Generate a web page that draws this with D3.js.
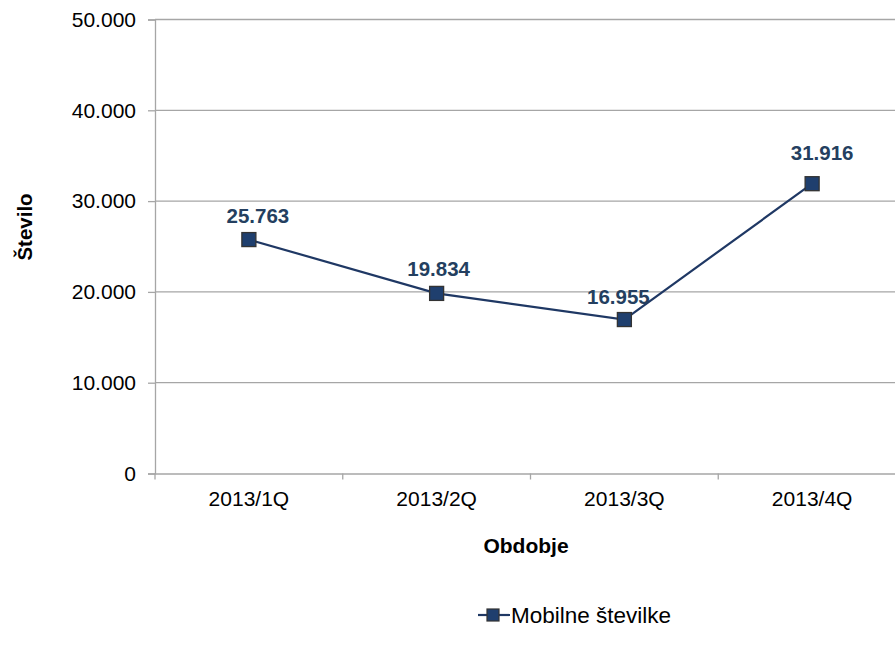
<!DOCTYPE html>
<html><head><meta charset="utf-8">
<script src="https://cdn.jsdelivr.net/npm/d3@7"></script>
<style>body{margin:0;background:#fff}svg{display:block}text{font-family:"Liberation Sans",Arial,sans-serif}</style>
</head><body>
<script>
const categories = ["2013/1Q","2013/2Q","2013/3Q","2013/4Q"];
const values = [25763, 19834, 16955, 31916];
const yTicks = [0,10000,20000,30000,40000,50000];
const seriesName = "Mobilne številke";
// label placement offsets (style, px)
const labelDx = [9, 2, -6, 10];
const labelDy = [-17, -17, -16, -24];

const W=895,H=650;
const svg=d3.select("body").append("svg").attr("width",W).attr("height",H);
const L=155, R=906, T=19.5, B=473.5;
const x=d3.scaleBand().domain(categories).range([L,R]);
const y=d3.scaleLinear().domain([0,50000]).range([B,T]);
const fmt=v=>v===0?"0":d3.format(",")(v).replace(/,/g,".");
const grid="#a6a6a6";
const FS=21;

// gridlines
svg.append("g").selectAll("line").data(yTicks.filter(d=>d>0)).join("line")
 .attr("x1",L).attr("x2",R).attr("y1",d=>y(d)).attr("y2",d=>y(d))
 .attr("stroke",grid).attr("stroke-width",1.3);

// y axis
const ya=svg.append("g").attr("transform",`translate(${L},0)`)
 .call(d3.axisLeft(y).tickValues(yTicks).tickFormat(fmt).tickSize(7).tickPadding(12));
ya.select(".domain").attr("stroke",grid).attr("stroke-width",1.3);
ya.selectAll(".tick line").attr("stroke",grid).attr("stroke-width",1.3);
ya.selectAll(".tick text").attr("font-size",FS).attr("fill","#000").attr("font-family","Liberation Sans, Arial, sans-serif");

// x axis
const xa=svg.append("g").attr("transform",`translate(0,${B})`)
 .call(d3.axisBottom(x).tickSize(0));
xa.select(".domain").attr("stroke",grid).attr("stroke-width",1.3);
xa.selectAll(".tick text").attr("font-size",FS).attr("fill","#000").attr("font-family","Liberation Sans, Arial, sans-serif")
 .attr("y",32.5).attr("dy",0);
// category boundary ticks
svg.append("g").selectAll("line").data(d3.range(categories.length+1)).join("line")
 .attr("x1",i=>L+i*x.bandwidth()).attr("x2",i=>L+i*x.bandwidth())
 .attr("y1",B).attr("y2",B+6).attr("stroke",grid).attr("stroke-width",1.3);

// axis titles
svg.append("text").attr("x",526).attr("y",553).attr("text-anchor","middle")
 .attr("font-size",FS).attr("font-weight","bold").text("Obdobje");
svg.append("text").attr("transform","translate(32,227) rotate(-90)").attr("text-anchor","middle")
 .attr("font-size",20.5).attr("font-weight","bold").text("Število");

// line
const cx=d=>x(d)+x.bandwidth()/2;
const pts=categories.map((c,i)=>[cx(c),y(values[i])]);
svg.append("path").attr("d",d3.line()(pts)).attr("fill","none").attr("stroke","#1f3864").attr("stroke-width",2.2);
svg.append("g").selectAll("rect").data(pts).join("rect")
 .attr("x",d=>d[0]-7).attr("y",d=>d[1]-7).attr("width",14).attr("height",14)
 .attr("fill","#1f3f6e").attr("stroke","#333").attr("stroke-width",1.3);
svg.append("g").selectAll("text").data(categories).join("text")
 .attr("x",(c,i)=>cx(c)+labelDx[i]).attr("y",(c,i)=>y(values[i])+labelDy[i]).attr("text-anchor","middle")
 .attr("font-size",20.5).attr("font-weight","bold").attr("fill","#243f60")
 .text((c,i)=>fmt(values[i]));

// legend
const ly=615;
svg.append("line").attr("x1",478).attr("x2",510).attr("y1",ly).attr("y2",ly).attr("stroke","#1f3864").attr("stroke-width",2.2);
svg.append("rect").attr("x",487).attr("y",ly-6).attr("width",12).attr("height",12).attr("fill","#1f3f6e").attr("stroke","#333").attr("stroke-width",1.2);
svg.append("text").attr("x",511).attr("y",ly+7.5).attr("font-size",22.5).text(seriesName);
</script>
</body></html>
